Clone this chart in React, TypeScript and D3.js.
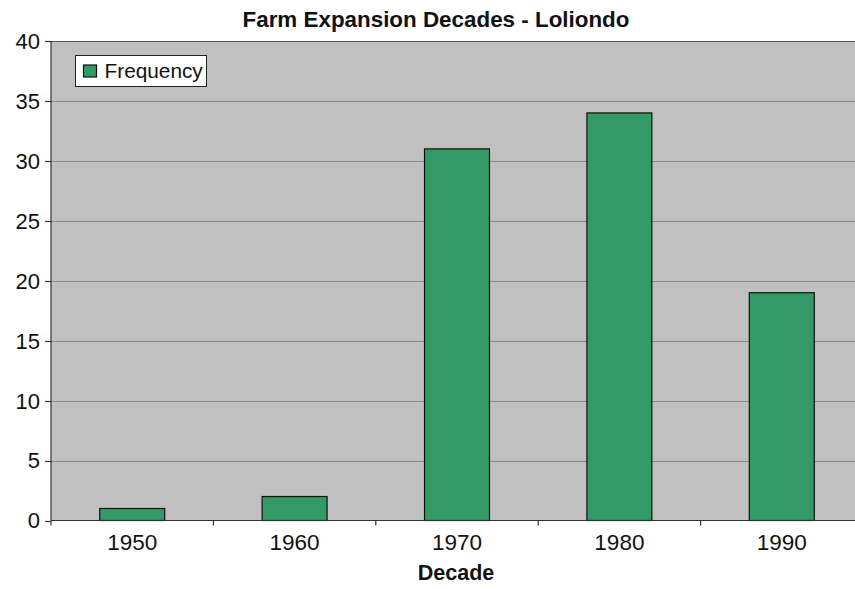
import React from "react";
import * as d3 from "d3";

const decades = ["1950", "1960", "1970", "1980", "1990"];
const frequency = [1, 2, 31, 34, 19];
const yTicks = [0, 5, 10, 15, 20, 25, 30, 35, 40];
const seriesName = "Frequency";
const title = "Farm Expansion Decades - Loliondo";
const xTitle = "Decade";

const W = 855;
const H = 589;
const FONT = "'Liberation Sans', Arial, Helvetica, sans-serif";

export default function App() {
  const left = 51;
  const right = 863; // plot area extends past the canvas edge
  const top = 41;
  const bottom = 520.5;

  const x = d3.scaleBand<string>().domain(decades).range([left, right]).paddingInner(0).paddingOuter(0);
  const y = d3.scaleLinear().domain([0, 40]).range([bottom, top]);
  const bw = x.bandwidth() * 0.4;

  return (
    <svg width={W} height={H} style={{ position: "absolute", left: 0, top: 0, background: "#fff" }} fontFamily={FONT}>
      <rect x={left} y={top} width={right - left} height={bottom - top} fill="#c0c0c0" />
      {yTicks.filter((t) => t > 0 && t < 40).map((t) => (
        <line key={"g" + t} x1={left} x2={right} y1={Math.round(y(t)) + 0.5} y2={Math.round(y(t)) + 0.5} stroke="#8a8a8a" strokeWidth={1.2} />
      ))}
      <line x1={left} x2={right} y1={top + 0.5} y2={top + 0.5} stroke="#555" strokeWidth={1.2} />
      {decades.map((d, i) => (
        <rect
          key={d}
          x={(x(d) as number) + (x.bandwidth() - bw) / 2}
          y={y(frequency[i])}
          width={bw}
          height={y(0) - y(frequency[i])}
          fill="#339966"
          stroke="#111"
          strokeWidth={1.2}
        />
      ))}
      {/* axes */}
      <line x1={left} x2={left} y1={top} y2={bottom} stroke="#333" strokeWidth={1.2} />
      <line x1={left} x2={right} y1={bottom} y2={bottom} stroke="#333" strokeWidth={1.2} />
      {yTicks.map((t) => (
        <g key={"y" + t}>
          <line x1={left - 6} x2={left} y1={Math.round(y(t)) + 0.5} y2={Math.round(y(t)) + 0.5} stroke="#333" strokeWidth={1.2} />
          <text x={40} y={y(t)} dy="0.36em" textAnchor="end" fontSize={22} fill="#111">
            {t}
          </text>
        </g>
      ))}
      {decades.map((d) => (
        <line key={"xt" + d} x1={x(d) as number} x2={x(d) as number} y1={bottom} y2={bottom + 5} stroke="#333" strokeWidth={1.2} />
      ))}
      <line x1={right} x2={right} y1={bottom} y2={bottom + 5} stroke="#333" strokeWidth={1.2} />
      {decades.map((d) => (
        <text key={"xl" + d} x={(x(d) as number) + x.bandwidth() / 2} y={550} textAnchor="middle" fontSize={22.5} fill="#111">
          {d}
        </text>
      ))}
      <text x={456} y={580} textAnchor="middle" fontSize={21.5} fontWeight="bold" fill="#111">
        {xTitle}
      </text>
      <text x={436} y={27} textAnchor="middle" fontSize={22.4} fontWeight="bold" fill="#111">
        {title}
      </text>
      {/* legend */}
      <rect x={75.5} y={55.5} width={131} height={31} fill="#fff" stroke="#222" strokeWidth={1} />
      <rect x={83.5} y={65} width={13} height={12} fill="#339966" stroke="#111" strokeWidth={1.2} />
      <text x={104.5} y={77.5} fontSize={20.8} fill="#111">
        {seriesName}
      </text>
    </svg>
  );
}
